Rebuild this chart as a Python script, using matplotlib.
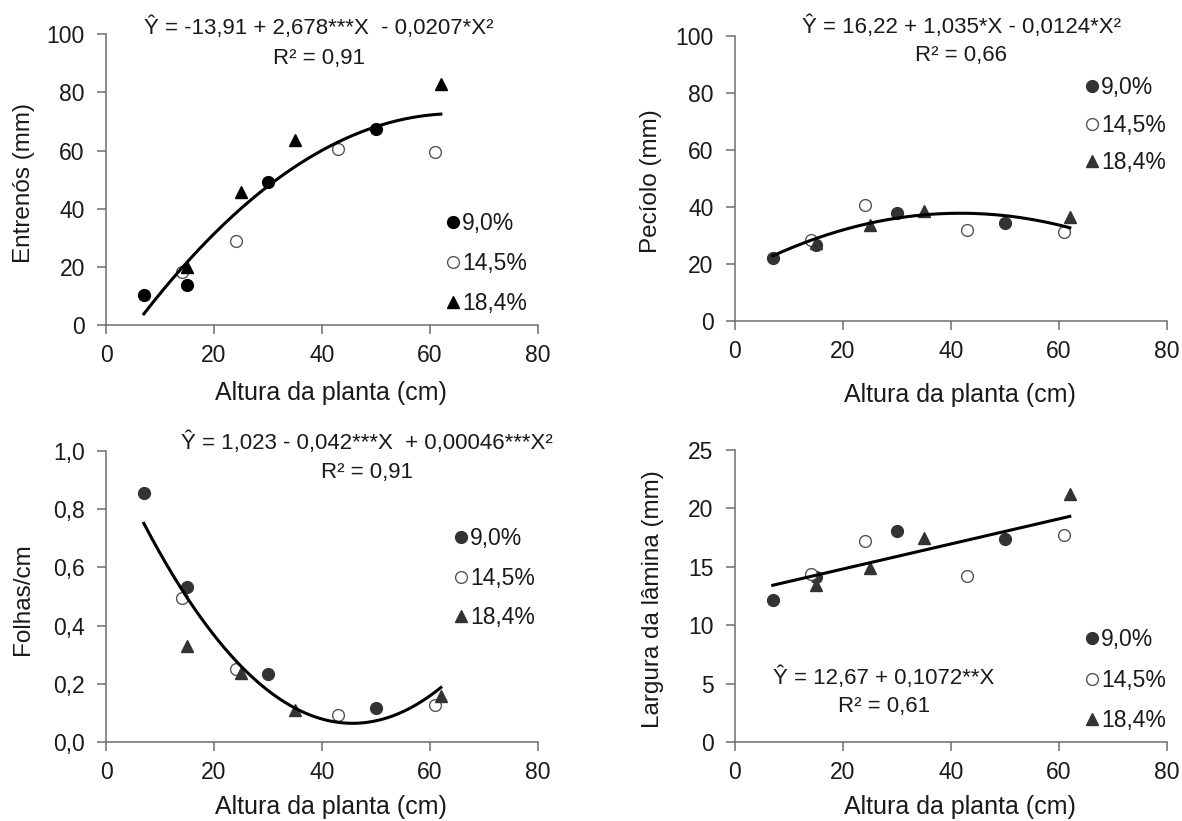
import numpy as np
import matplotlib
matplotlib.use("Agg")
import matplotlib.pyplot as plt

plt.rcParams['font.family'] = ['Liberation Sans', 'DejaVu Sans']

# treatment labels
labels = ['9,0%', '14,5%', '18,4%']

# plant height (cm) per treatment
x_90 = [7, 15, 30, 50]
x_145 = [14, 24, 43, 61]
x_184 = [15, 25, 35, 62]

# Entrenós (mm)
ent_90 = [10.4, 13.7, 49.2, 67.6]
ent_145 = [18.3, 28.9, 60.7, 59.6]
ent_184 = [19.8, 45.6, 63.6, 83.0]

# Pecíolo (mm)
pec_90 = [22.0, 26.8, 37.8, 34.4]
pec_145 = [28.6, 40.6, 31.9, 31.1]
pec_184 = [27.5, 33.8, 38.7, 36.5]

# Folhas/cm
fol_90 = [0.857, 0.533, 0.235, 0.117]
fol_145 = [0.496, 0.250, 0.092, 0.126]
fol_184 = [0.330, 0.236, 0.111, 0.159]

# Largura da lâmina (mm)
lar_90 = [12.2, 14.1, 18.05, 17.4]
lar_145 = [14.4, 17.2, 14.25, 17.7]
lar_184 = [13.4, 14.9, 17.45, 21.25]

# regression coefficients as printed (c0, c1, c2)
coef_ent = [-13.91, 2.678, -0.0207]
coef_pec = [16.22, 1.035, -0.0124]
coef_fol = [1.023, -0.042, 0.00046]
coef_lar = [12.67, 0.1072, 0.0]
fit_range = [7, 62]

xticks = [0, 20, 40, 60, 80]
xticklabels = ['0', '20', '40', '60', '80']
yt_ent = [0, 20, 40, 60, 80, 100]
yt_fol = [0.0, 0.2, 0.4, 0.6, 0.8, 1.0]
ytl_fol = ['0,0', '0,2', '0,4', '0,6', '0,8', '1,0']
yt_lar = [0, 5, 10, 15, 20, 25]

fig = plt.figure(figsize=(11.82, 8.21), dpi=100)

panels = [
    # rect, ys, coef, yticks, yticklabels, ylabel, eq lines, eq pos,
    # legend anchor, legend spacing, marker colour, xlabel y, ylabel x
    ([0.0897, 0.6041, 0.3655, 0.3541], (ent_90, ent_145, ent_184), coef_ent,
     yt_ent, None, 'Entrenós (mm)',
     ['Ŷ = -13,91 + 2,678***X  - 0,0207*X²', 'R² = 0,91'],
     [(0.493, 1.022), (0.493, 0.918)], (0.793, 0.388), 0.74, '#000000', -0.234, -0.189),
    ([0.6218, 0.6090, 0.3655, 0.3471], (pec_90, pec_145, pec_184), coef_pec,
     yt_ent, None, 'Pecíolo (mm)',
     ['Ŷ = 16,22 + 1,035*X - 0,0124*X²', 'R² = 0,66'],
     [(0.524, 1.032), (0.524, 0.933)], (0.816, 0.859), 0.63, '#333333', -0.26, -0.194),
    ([0.0897, 0.0962, 0.3655, 0.3544], (fol_90, fol_145, fol_184), coef_fol,
     yt_fol, ytl_fol, 'Folhas/cm',
     ['Ŷ = 1,023 - 0,042***X  + 0,00046***X²', 'R² = 0,91'],
     [(0.604, 1.027), (0.604, 0.928)], (0.811, 0.738), 0.72, '#333333', -0.223, -0.193),
    ([0.6218, 0.0962, 0.3655, 0.3557], (lar_90, lar_145, lar_184), coef_lar,
     yt_lar, None, 'Largura da lâmina (mm)',
     ['Ŷ = 12,67 + 0,1072**X', 'R² = 0,61'],
     [(0.345, 0.219), (0.345, 0.12)], (0.816, 0.39), 0.76, '#333333', -0.223, -0.190),
]

xs = (x_90, x_145, x_184)

for rect, ys, coef, yt, ytl, ylabel, eq, eqpos, legpos, legsp, dark, xly, ylx in panels:
    ax = fig.add_axes(rect)
    h1, = ax.plot(xs[0], ys[0], linestyle='none', marker='o', ms=8.5,
                  mfc=dark, mec=dark, label=labels[0], zorder=2)
    h2, = ax.plot(xs[1], ys[1], linestyle='none', marker='o', ms=8.5,
                  mfc='white', mec='#555555', mew=1.0, label=labels[1], zorder=2)
    h3, = ax.plot(xs[2], ys[2], linestyle='none', marker='^', ms=9,
                  mfc=dark, mec=dark, label=labels[2], zorder=2)

    xf = np.linspace(fit_range[0], fit_range[1], 200)
    yf = coef[0] + coef[1] * xf + coef[2] * xf ** 2
    ax.plot(xf, yf, color='black', lw=2.2, zorder=3)

    ax.set_xlim(0, 80)
    ax.set_ylim(yt[0], yt[-1])
    ax.set_xticks(xticks)
    ax.set_xticklabels(xticklabels)
    ax.set_yticks(yt)
    if ytl is not None:
        ax.set_yticklabels(ytl)

    for s in ['top', 'right']:
        ax.spines[s].set_visible(False)
    for s in ['left', 'bottom']:
        ax.spines[s].set_color('#6e6e6e')
        ax.spines[s].set_linewidth(1.1)
    ax.tick_params(axis='both', direction='out', length=6.3, width=1.1,
                   color='#6e6e6e', labelsize=16.5, labelcolor='#1a1a1a')
    ax.tick_params(axis='x', pad=7.5)
    ax.tick_params(axis='y', pad=9)

    ax.set_xlabel('Altura da planta (cm)', fontsize=18, color='#1a1a1a', va='center')
    ax.xaxis.set_label_coords(0.521, xly)
    ax.set_ylabel(ylabel, fontsize=17.5, color='#1a1a1a', va='center')
    ax.yaxis.set_label_coords(ylx, 0.49)

    ax.text(eqpos[0][0], eqpos[0][1], eq[0], transform=ax.transAxes,
            ha='center', va='center', fontsize=16, color='#1a1a1a')
    ax.text(eqpos[1][0], eqpos[1][1], eq[1], transform=ax.transAxes,
            ha='center', va='center', fontsize=16, color='#1a1a1a')

    ax.legend(handles=[h1, h2, h3], loc='upper left', bbox_to_anchor=legpos,
              frameon=False, fontsize=16.5, handlelength=0.4, handletextpad=0.2,
              labelspacing=legsp, borderpad=0, borderaxespad=0, markerscale=1.0,
              labelcolor='#1a1a1a')

fig.savefig('out.png', dpi=100)
